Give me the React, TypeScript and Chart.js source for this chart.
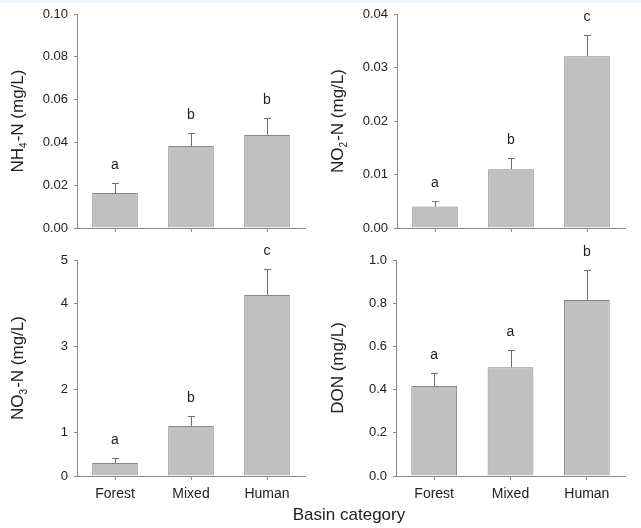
import React, { useEffect, useRef } from "react";
import { Chart, registerables } from "chart.js";

Chart.register(...registerables);

const categories = ["Forest", "Mixed", "Human"];

const nh4Mean = [0.0163, 0.0383, 0.0434];
const nh4Err = [0.0048, 0.0061, 0.0079];
const nh4Letters = ["a", "b", "b"];

const no2Mean = [0.0040, 0.0110, 0.0321];
const no2Err = [0.0010, 0.0020, 0.0040];
const no2Letters = ["a", "b", "c"];

const no3Mean = [0.30, 1.16, 4.19];
const no3Err = [0.12, 0.23, 0.60];
const no3Letters = ["a", "b", "c"];

const donMean = [0.417, 0.503, 0.815];
const donErr = [0.06, 0.08, 0.137];
const donLetters = ["a", "a", "b"];

const xAxisTitle = "Basin category";

const FONT = "'Liberation Sans', Arial, Helvetica, sans-serif";
const TEXT = "#222222";
const AXIS = "#8a8a8a";

type PanelDef = {
  key: string;
  left: number;
  top: number;
  width: number;
  height: number;
  area: { left: number; right: number; top: number; bottom: number };
  titleX: number;
  titleParts: [string, string, string];
  mean: number[];
  err: number[];
  letters: string[];
  yMax: number;
  yStep: number;
  decimals: number;
  showXLabels: boolean;
};

const panels: PanelDef[] = [
  {
    key: "nh4", left: 0, top: 0, width: 320, height: 250,
    area: { left: 77, right: 305, top: 14, bottom: 228 }, titleX: 18,
    titleParts: ["NH", "4", "-N (mg/L)"], mean: nh4Mean, err: nh4Err, letters: nh4Letters,
    yMax: 0.1, yStep: 0.02, decimals: 2, showXLabels: false,
  },
  {
    key: "no2", left: 320, top: 0, width: 321, height: 250,
    area: { left: 77, right: 305, top: 14, bottom: 228 }, titleX: 18,
    titleParts: ["NO", "2", "-N (mg/L)"], mean: no2Mean, err: no2Err, letters: no2Letters,
    yMax: 0.04, yStep: 0.01, decimals: 2, showXLabels: false,
  },
  {
    key: "no3", left: 0, top: 236, width: 320, height: 292,
    area: { left: 77, right: 305, top: 24, bottom: 240 }, titleX: 18,
    titleParts: ["NO", "3", "-N (mg/L)"], mean: no3Mean, err: no3Err, letters: no3Letters,
    yMax: 5, yStep: 1, decimals: 0, showXLabels: true,
  },
  {
    key: "don", left: 320, top: 236, width: 321, height: 292,
    area: { left: 76, right: 305, top: 24, bottom: 240 }, titleX: 18,
    titleParts: ["DON (mg/L)", "", ""], mean: donMean, err: donErr, letters: donLetters,
    yMax: 1.0, yStep: 0.2, decimals: 1, showXLabels: true,
  },
];

function Panel({ p }: { p: PanelDef }) {
  const ref = useRef<HTMLCanvasElement | null>(null);
  useEffect(() => {
    if (!ref.current) return;
    const errorPlugin = {
      id: "errorBarsLetters",
      afterDatasetsDraw(chart: any) {
        const ctx = chart.ctx;
        const xs = chart.scales.x;
        const ys = chart.scales.y;
        ctx.save();
        p.mean.forEach((m, i) => {
          const x = xs.getPixelForValue(i);
          const yBar = ys.getPixelForValue(m);
          const yTop = ys.getPixelForValue(m + p.err[i]);
          ctx.strokeStyle = "#6e6e6e";
          ctx.lineWidth = 1;
          ctx.beginPath();
          ctx.moveTo(Math.round(x) + 0.5, yBar);
          ctx.lineTo(Math.round(x) + 0.5, Math.round(yTop) + 0.5);
          ctx.moveTo(Math.round(x) - 3, Math.round(yTop) + 0.5);
          ctx.lineTo(Math.round(x) + 4, Math.round(yTop) + 0.5);
          ctx.stroke();
          ctx.fillStyle = TEXT;
          ctx.font = `14px ${FONT}`;
          ctx.textAlign = "center";
          ctx.textBaseline = "middle";
          ctx.fillText(p.letters[i], x, yTop - 18);
        });
        ctx.restore();
      },
      afterDraw(chart: any) {
        const ctx = chart.ctx;
        const area = chart.chartArea;
        const cy = (area.top + area.bottom) / 2;
        const [a, s, b] = p.titleParts;
        ctx.save();
        ctx.fillStyle = TEXT;
        ctx.textBaseline = "middle";
        ctx.textAlign = "left";
        const big = `17px ${FONT}`;
        const small = `10px ${FONT}`;
        ctx.font = big;
        const wa = ctx.measureText(a).width;
        const wb = ctx.measureText(b).width;
        ctx.font = small;
        const ws = s ? ctx.measureText(s).width + 1 : 0;
        const total = wa + ws + wb;
        ctx.translate(p.titleX, cy);
        ctx.rotate(-Math.PI / 2);
        let x = -total / 2;
        ctx.font = big;
        ctx.fillText(a, x, 0);
        x += wa;
        if (s) {
          ctx.font = small;
          ctx.fillText(s, x, 6);
          x += ws;
        }
        ctx.font = big;
        ctx.fillText(b, x, 0);
        ctx.restore();
      },
    };

    const chart = new Chart(ref.current, {
      type: "bar",
      data: {
        labels: categories,
        datasets: [
          {
            data: p.mean,
            backgroundColor: "#c0c0c0",
            borderColor: "#858585",
            borderWidth: 1,
            borderSkipped: "bottom",
            barPercentage: 0.6,
            categoryPercentage: 1,
          },
        ],
      },
      options: {
        responsive: false,
        animation: false,
        devicePixelRatio: 1,
        layout: {
          padding: {
            left: 0,
            top: p.area.top,
            right: p.width - p.area.right,
            bottom: 0,
          },
        },
        plugins: { legend: { display: false }, tooltip: { enabled: false }, title: { display: false } },
        scales: {
          x: {
            type: "category",
            offset: true,
            afterFit: (s: any) => { s.height = p.height - p.area.bottom; },
            grid: { display: true, offset: false, drawOnChartArea: false, drawTicks: true, tickLength: 4, color: AXIS, lineWidth: 1 },
            border: { display: true, color: AXIS, width: 1 },
            ticks: {
              display: p.showXLabels,
              padding: 6,
              color: TEXT,
              font: { family: FONT, size: 14 },
              maxRotation: 0,
              autoSkip: false,
            },
          },
          y: {
            min: 0,
            max: p.yMax,
            afterFit: (s: any) => { s.width = p.area.left; },
            grid: { display: true, drawOnChartArea: false, drawTicks: true, tickLength: 3, color: AXIS, lineWidth: 1 },
            border: { display: true, color: AXIS, width: 1 },
            ticks: {
              stepSize: p.yStep,
              padding: 6,
              color: TEXT,
              font: { family: FONT, size: 13 },
              callback: (v: any) => Number(v).toFixed(p.decimals),
            },
          },
        },
      },
      plugins: [errorPlugin],
    } as any);
    return () => chart.destroy();
  }, [p]);

  return (
    <canvas
      ref={ref}
      width={p.width}
      height={p.height}
      style={{ position: "absolute", left: p.left, top: p.top, width: p.width, height: p.height }}
    />
  );
}

export default function App() {
  return (
    <div style={{ position: "fixed", left: 0, top: 0, width: 641, height: 528, background: "#ffffff", overflow: "hidden" }}>
      <div style={{ position: "absolute", left: 0, top: 0, width: 641, height: 3, background: "#eef6fd" }} />
      {panels.map((p) => (
        <Panel key={p.key} p={p} />
      ))}
      <div
        style={{
          position: "absolute",
          left: 249,
          width: 200,
          top: 505,
          textAlign: "center",
          fontFamily: FONT,
          fontSize: 17,
          lineHeight: "20px",
          color: TEXT,
        }}
      >
        {xAxisTitle}
      </div>
    </div>
  );
}
